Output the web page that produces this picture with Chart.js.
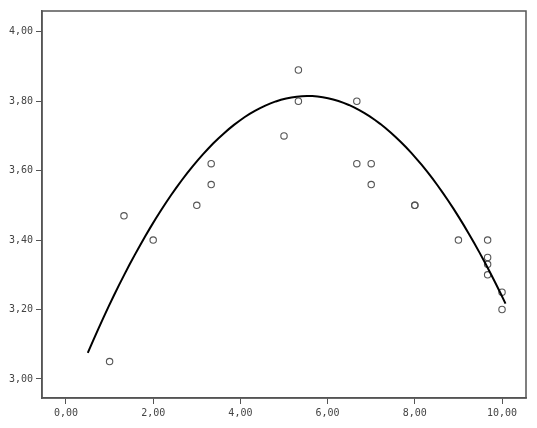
<!DOCTYPE html>
<html><head><meta charset="utf-8">
<script src="https://cdn.jsdelivr.net/npm/chart.js@4/dist/chart.umd.min.js"></script>
<style>html,body{margin:0;padding:0;background:#fff;}#wrap{width:537px;height:428px;}</style>
</head><body><div id="wrap"><canvas id="c" width="537" height="428"></canvas></div>
<script>
const xValues = [1.0, 1.33, 2.0, 3.0, 3.33, 3.33, 5.0, 5.33, 5.33, 6.67, 6.67, 7.0, 7.0, 8.0, 8.0, 9.0, 9.67, 9.67, 9.67, 9.67, 10.0, 10.0];
const yValues = [3.05, 3.47, 3.40, 3.50, 3.62, 3.56, 3.70, 3.89, 3.80, 3.80, 3.62, 3.62, 3.56, 3.50, 3.50, 3.40, 3.40, 3.35, 3.33, 3.30, 3.25, 3.20];
const xTicks = [0, 2, 4, 6, 8, 10];
const yTicks = [3.0, 3.2, 3.4, 3.6, 3.8, 4.0];
// quadratic fit line: y = b0 + b1*x + b2*x^2, drawn from fitStart to fitEnd
const fitCoef = [2.921, 0.3225, -0.02908];
const fitRange = [0.5, 10.08];

const scatterData = xValues.map((x, i) => ({x: x, y: yValues[i]}));
const fitData = [];
for (let k = 0; k <= 80; k++) {
  const x = fitRange[0] + (fitRange[1] - fitRange[0]) * k / 80;
  fitData.push({x: x, y: fitCoef[0] + fitCoef[1] * x + fitCoef[2] * x * x});
}
const fmt = v => Number(v).toFixed(2).replace('.', ',');

const frame = {
  id: 'frame',
  afterDraw(chart) {
    const a = chart.chartArea, ctx = chart.ctx;
    ctx.save();
    ctx.strokeStyle = '#555';
    ctx.lineWidth = 1.5;
    ctx.strokeRect(a.left, a.top, a.right - a.left, a.bottom - a.top);
    ctx.restore();
  }
};

new Chart(document.getElementById('c'), {
  type: 'scatter',
  data: {
    datasets: [
      {data: scatterData, pointRadius: 3.2, pointHoverRadius: 3.2, pointBorderColor: '#555', pointBackgroundColor: 'rgba(0,0,0,0)', pointBorderWidth: 1.1, showLine: false, order: 2},
      {data: fitData, type: 'line', borderColor: '#000', borderWidth: 2, pointRadius: 0, tension: 0, fill: false, order: 1}
    ]
  },
  options: {
    responsive: false,
    animation: false,
    events: [],
    layout: {padding: {top: 11, right: 11, left: 0, bottom: 0}},
    plugins: {legend: {display: false}, tooltip: {enabled: false}},
    scales: {
      x: {
        type: 'linear', min: -0.55, max: 10.55,
        afterBuildTicks: s => { s.ticks = xTicks.map(v => ({value: v})); },
        afterFit: s => { s.height = 30; },
        grid: {drawOnChartArea: false, drawTicks: true, tickLength: 6, color: '#555', lineWidth: 1},
        border: {display: true, color: '#555', width: 1.5},
        ticks: {callback: fmt, color: '#444', padding: 3, font: {family: 'DejaVu Sans Mono', size: 10}, maxRotation: 0}
      },
      y: {
        type: 'linear', min: 2.945, max: 4.06,
        afterBuildTicks: s => { s.ticks = yTicks.map(v => ({value: v})); },
        afterFit: s => { s.width = 42; },
        grid: {drawOnChartArea: false, drawTicks: true, tickLength: 6, color: '#555', lineWidth: 1},
        border: {display: true, color: '#555', width: 1.5},
        ticks: {callback: fmt, color: '#444', padding: 3, font: {family: 'DejaVu Sans Mono', size: 10}}
      }
    }
  },
  plugins: [frame]
});
</script>
</body></html>
